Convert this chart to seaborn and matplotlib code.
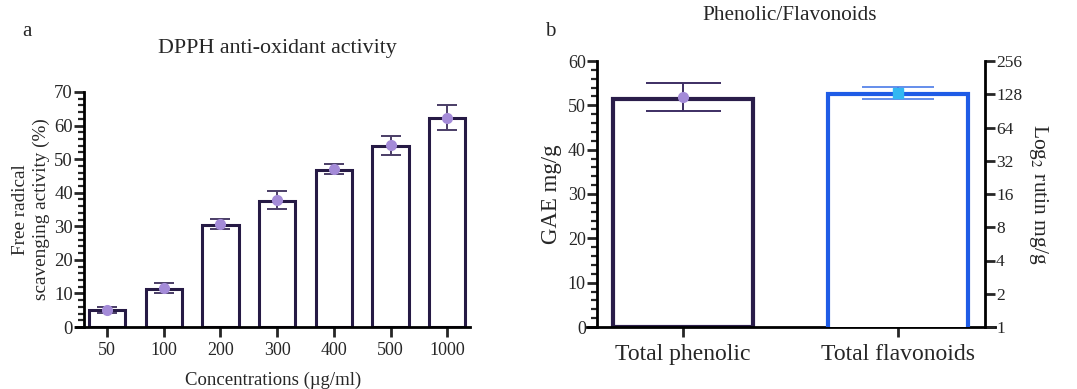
import numpy as np
import matplotlib
matplotlib.use("Agg")
import matplotlib.pyplot as plt
import seaborn as sns
from matplotlib.ticker import MultipleLocator, FixedLocator, FuncFormatter, NullLocator

# Panel a: DPPH anti-oxidant activity
concentrations = ["50", "100", "200", "300", "400", "500", "1000"]
dpph_bar = [5.0, 11.2, 30.3, 37.5, 46.9, 53.9, 62.2]
dpph_mean = [5.1, 11.6, 30.6, 37.9, 47.2, 54.1, 62.4]
dpph_err = [0.9, 1.5, 1.5, 2.7, 1.5, 2.9, 3.7]

# Panel b: Phenolic / Flavonoids
groups = ["Total phenolic", "Total flavonoids"]
phenolic_bar = [51.5]
phenolic_mean = [51.9]
phenolic_err = [3.1]
flavonoid_bar = [128]
flavonoid_mean = [132]
flavonoid_lo = [117]
flavonoid_hi = [148]
log2_ticks = [1, 2, 4, 8, 16, 32, 64, 128, 256]

sns.set_theme(style="ticks")
plt.rcParams["font.family"] = ["Liberation Serif", "DejaVu Serif"]
plt.rcParams["mathtext.fontset"] = "stix"

W, H = 1077, 389
fig = plt.figure(figsize=(W / 100, H / 100), dpi=100)

dark = "#261a45"
lav = "#a48bd8"

# ---------------- panel a ----------------
ax = fig.add_axes([76 / W, 1 - 327 / H, (470 - 76) / W, (327 - 92) / H])
sns.barplot(x=concentrations, y=dpph_bar, order=concentrations, color="white",
            edgecolor=dark, linewidth=2.2, width=0.64, errorbar=None, ax=ax)
pos = np.arange(len(concentrations))
ax.errorbar(pos, dpph_mean, yerr=dpph_err, fmt="none", ecolor="#4a3d66",
            elinewidth=1.4, capsize=7.5, capthick=1.4, zorder=4)
ax.plot(pos, dpph_mean, "o", color=lav, markersize=7, zorder=5)
ax.set_xlim((76 - 107) / 56.7, (470 - 107) / 56.7)
ax.set_ylim(0, 70)
ax.yaxis.set_major_locator(MultipleLocator(10))
ax.yaxis.set_minor_locator(MultipleLocator(2))
ax.spines["left"].set_position(("axes", 8 / 394))
for s in ["top", "right"]:
    ax.spines[s].set_visible(False)
for s in ["left", "bottom"]:
    ax.spines[s].set_linewidth(2)
    ax.spines[s].set_color("black")
ax.tick_params(axis="y", which="major", length=7, width=2, labelsize=13.5, pad=1)
ax.tick_params(axis="y", which="minor", length=4, width=1.6)
ax.tick_params(axis="x", which="major", length=7, width=2, labelsize=13, pad=4)
ax.set_ylabel("Free radical\nscavenging activity (%)", fontsize=13.8, labelpad=3, linespacing=1.3)
ax.set_xlabel("Concentrations (\u00b5g/ml)", fontsize=13.5, labelpad=9)
fig.text(277 / W, 1 - 48 / H, "DPPH anti-oxidant activity", ha="center", va="center", fontsize=15.8)
fig.text(22 / W, 1 - 31 / H, "a", ha="left", va="center", fontsize=15)

# ---------------- panel b ----------------
bx = fig.add_axes([587 / W, 1 - 327 / H, (995 - 587) / W, (327 - 61) / H])
sns.barplot(x=["Total phenolic"], y=phenolic_bar, order=groups, color="white",
            edgecolor="#2a1d4a", linewidth=3, width=0.65, errorbar=None, ax=bx)
bx.errorbar([0], phenolic_mean, yerr=phenolic_err, fmt="none", ecolor="#3d2e63",
            elinewidth=1.4, capsize=27, capthick=1.4, zorder=4)
bx.plot([0], phenolic_mean, "o", color=lav, markersize=7, zorder=5)

bx2 = bx.twinx()
sns.barplot(x=["Total flavonoids"], y=flavonoid_bar, order=groups, color="white",
            edgecolor="#1f5ce6", linewidth=3, width=0.65, errorbar=None,
            log_scale=2, ax=bx2)
yerr2 = [[flavonoid_mean[0] - flavonoid_lo[0]], [flavonoid_hi[0] - flavonoid_mean[0]]]
bx2.errorbar([1], flavonoid_mean, yerr=yerr2, fmt="none", ecolor="#3a6fe6",
             elinewidth=1.1, capsize=26, capthick=1.1, zorder=4)
bx2.plot([1], flavonoid_mean, "s", color="#33b8f2", markersize=7, zorder=5)

xl = ((587 - 683) / 215, (995 - 683) / 215)
bx.set_xlim(*xl)
bx2.set_xlim(*xl)
bx.set_ylim(0, 60)
bx.yaxis.set_major_locator(MultipleLocator(10))
bx.yaxis.set_minor_locator(MultipleLocator(2))
bx2.set_yscale("log", base=2)
bx2.set_ylim(1, 256)
bx2.yaxis.set_major_locator(FixedLocator(log2_ticks))
bx2.yaxis.set_major_formatter(FuncFormatter(lambda v, p: f"{int(round(v))}"))
bx2.yaxis.set_minor_locator(NullLocator())

for a_ in (bx, bx2):
    a_.spines["top"].set_visible(False)
    for s in ["left", "right", "bottom"]:
        a_.spines[s].set_linewidth(2)
        a_.spines[s].set_color("black")
bx.spines["right"].set_visible(False)
bx2.spines["left"].set_visible(False)
bx2.spines["bottom"].set_visible(False)
bx.spines["left"].set_position(("axes", 10 / 408))
bx2.spines["right"].set_position(("axes", 398 / 408))

bx.tick_params(axis="y", which="major", length=7, width=2, labelsize=13, pad=1)
bx.tick_params(axis="y", which="minor", length=4, width=1.6)
bx.tick_params(axis="x", which="major", length=7, width=2, labelsize=17, pad=5)
bx2.tick_params(axis="y", which="major", length=7, width=2, labelsize=12.5, pad=1)
bx.set_ylabel("GAE mg/g", fontsize=16.5, labelpad=4)
bx2.set_ylabel("Log$_2$ rutin mg/g", fontsize=15.5, rotation=270, labelpad=20)
bx2.set_xlabel("")
fig.text(790 / W, 1 - 15 / H, "Phenolic/Flavonoids", ha="center", va="center", fontsize=15.3)
fig.text(545 / W, 1 - 31 / H, "b", ha="left", va="center", fontsize=15)

fig.savefig("out.png", dpi=100)
